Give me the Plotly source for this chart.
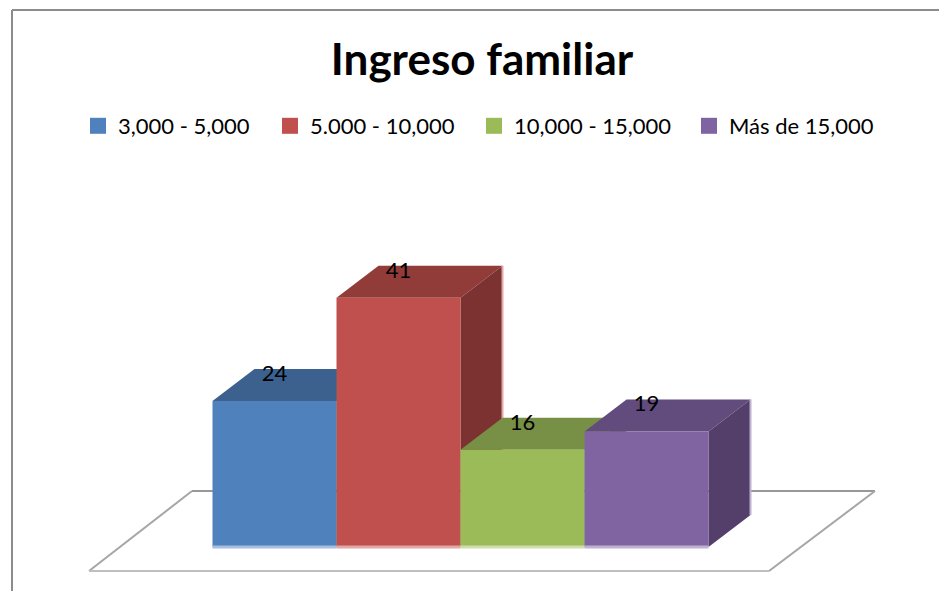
import plotly.graph_objects as go

W, H = 939, 591

# chart data
categories = ['3,000 - 5,000', '5.000 - 10,000', '10,000 - 15,000', 'Más de 15,000']
values = [24, 41, 16, 19]

# colours per series: front, top, side, light edge
front_colors = ['#4F81BD', '#C0504D', '#9BBB59', '#8064A2']
top_colors = ['#3C618F', '#923C3A', '#779045', '#624C7D']
side_colors = ['#335279', '#7B3231', '#657A3A', '#533F6A']
edge_colors = ['#A7BFDE', '#E0A8A6', '#CDDDAC', '#BFB1D0']

# left edge of each legend box, in page pixels
legend_left = [78, 270, 474, 689]

# axis scale: one category is 124 px wide, one unit of value is 6.08 px
X_UNIT, Y_UNIT = 124, 6.08
X0_PX, Y0_PX = 274.5, 547
x_range = [-X0_PX / X_UNIT, (W - X0_PX) / X_UNIT]
y_range = [(Y0_PX - H) / Y_UNIT, Y0_PX / Y_UNIT]

# oblique depth of the 3D look, in axis units
DX = 42 / X_UNIT
DY = 32 / Y_UNIT

fig = go.Figure()

for i, (name, v) in enumerate(zip(categories, values)):
    xl, xr = i - 0.5, i + 0.5
    # top face
    fig.add_trace(go.Scatter(
        x=[xl, xr, xr + DX, xl + DX, xl], y=[v, v, v + DY, v + DY, v],
        mode='lines', fill='toself', fillcolor=top_colors[i],
        line=dict(width=0), hoverinfo='skip', showlegend=False,
    ))
    # side face
    fig.add_trace(go.Scatter(
        x=[xr, xr + DX, xr + DX, xr, xr], y=[0, DY, v + DY, v, 0],
        mode='lines', fill='toself', fillcolor=side_colors[i],
        line=dict(width=0), hoverinfo='skip', showlegend=False,
    ))
    # light back edge
    fig.add_trace(go.Scatter(
        x=[xr + DX, xr + DX], y=[DY, v + DY],
        mode='lines', line=dict(color=edge_colors[i], width=2),
        hoverinfo='skip', showlegend=False,
    ))
    # front face, on the overlay axes so it covers every top and side
    fig.add_trace(go.Bar(
        x=[i], y=[v], width=[1], name=name,
        marker=dict(color=front_colors[i], line=dict(width=0)),
        xaxis='x2', yaxis='y2', showlegend=False,
    ))
    # light strip along the foot of the bar
    fig.add_trace(go.Scatter(
        x=[xl, xr], y=[0, 0], mode='lines',
        line=dict(color=edge_colors[i], width=3),
        xaxis='x2', yaxis='y2', hoverinfo='skip', showlegend=False,
    ))
    # legend entry, each in its own legend so it can be placed
    fig.add_trace(go.Scatter(
        x=[None], y=[None], mode='markers', name=name,
        marker=dict(symbol='square', size=16, color=front_colors[i]),
        legend='legend' if i == 0 else f'legend{i + 1}',
    ))

# value labels
fig.add_trace(go.Scatter(
    x=list(range(len(values))), y=[v + 4.2 for v in values],
    mode='text', text=[str(v) for v in values],
    textposition='middle center',
    textfont=dict(family='Lato', size=22, color='#000000'),
    xaxis='x2', yaxis='y2', hoverinfo='skip', showlegend=False,
))


def page_line(x0, y0, x1, y1, color, width):
    return dict(type='line', xref='paper', yref='paper', layer='below',
                x0=x0 / W, x1=x1 / W, y0=1 - y0 / H, y1=1 - y1 / H,
                line=dict(color=color, width=width))


shapes = [
    # chart frame
    page_line(12, 10, W, 10, '#8C8C8C', 2),
    page_line(12, 10, 12, H, '#8C8C8C', 2),
    # floor
    page_line(192, 491, 875, 491, '#989898', 2),
    page_line(192, 491, 89, 571, '#A6A6A6', 2),
    page_line(875, 491, 769, 571, '#A6A6A6', 2),
    page_line(89, 571, 769, 571, '#BFBFBF', 2),
]

axis_style = dict(visible=False, fixedrange=True)
layout = dict(
    width=W, height=H,
    margin=dict(l=0, r=0, t=0, b=0),
    paper_bgcolor='white', plot_bgcolor='rgba(0,0,0,0)',
    barmode='overlay',
    font=dict(family='Lato', color='#000000'),
    title=dict(text='<b>Ingreso familiar</b>', x=482 / W, xanchor='center',
               y=1 - 60 / H, yanchor='middle',
               font=dict(family='Lato', size=44, color='#000000')),
    xaxis=dict(range=x_range, **axis_style),
    yaxis=dict(range=y_range, **axis_style),
    xaxis2=dict(range=x_range, overlaying='x', **axis_style),
    yaxis2=dict(range=y_range, overlaying='y', **axis_style),
    shapes=shapes,
)
for i, left in enumerate(legend_left):
    key = 'legend' if i == 0 else f'legend{i + 1}'
    layout[key] = dict(
        x=left / W, xanchor='left', y=1 - 126 / H, yanchor='middle',
        orientation='h', itemsizing='trace', bgcolor='rgba(0,0,0,0)',
        font=dict(family='Lato', size=22, color='#000000'),
    )
fig.update_layout(**layout)

fig.write_html("out.html", config=dict(displayModeBar=False),
               post_script="document.body.style.margin='0';")
